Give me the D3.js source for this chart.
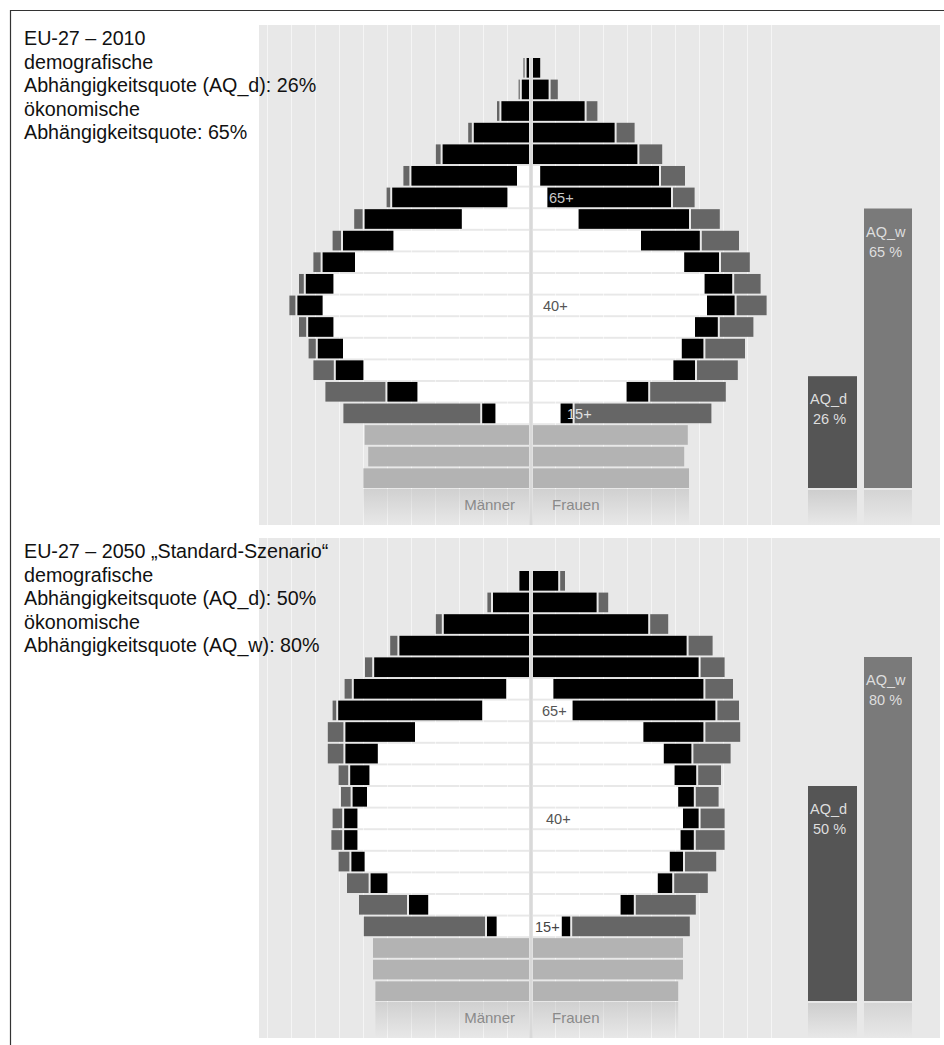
<!DOCTYPE html>
<html lang="de">
  <head>
    <meta charset="UTF-8" />
    <title>EU-27 Bevölkerungspyramiden 2010 / 2050</title>
    <script src="https://d3js.org/d3.v7.min.js"></script>
    <style>
      body {
        margin: 0;
        background: #fff;
        font-family: "Liberation Sans", Arial, Helvetica, sans-serif;
      }
      svg {
        display: block;
      }
      .info {
        font-size: 19.7px;
        fill: #111;
      }
      .age {
        font-size: 14.5px;
      }
      .sex {
        font-size: 15px;
        fill: #8a8a8a;
      }
      .aq {
        font-size: 14.5px;
        fill: #dedede;
      }
    </style>
  </head>
  <body>
    <svg id="chart" width="944" height="1045"></svg>
    <script>
      // age groups, bottom to top (index 0 = 0-4 ... 19 = 95+), values in Mio.
      const ages = ["0-4", "5-9", "10-14", "15-19", "20-24", "25-29", "30-34", "35-39", "40-44", "45-49",
                    "50-54", "55-59", "60-64", "65-69", "70-74", "75-79", "80-84", "85-89", "90-94", "95+"];

      // 2010
      const men2010Kids   = [13.8, 13.4, 13.7, 0, 0, 0, 0, 0, 0, 0, 0, 0, 0, 0, 0, 0, 0, 0, 0, 0];
      const men2010Work   = [0, 0, 0, 2.8, 9.3, 13.8, 15.5, 16.3, 17.2, 16.3, 14.5, 11.3, 5.6, 1.8, 1.0, 0, 0, 0, 0, 0];
      const men2010Dep    = [0, 0, 0, 1.1, 2.5, 2.3, 2.1, 2.1, 2.1, 2.3, 2.7, 4.2, 8.1, 9.6, 8.8, 7.2, 4.6, 2.3, 0.6, 0.2];
      const men2010Out    = [0, 0, 0, 11.4, 5.0, 1.7, 0.6, 0.6, 0.5, 0.4, 0.6, 0.7, 0.7, 0.3, 0.5, 0.4, 0.3, 0.2, 0.1, 0.1];
      const women2010Kids = [13.0, 12.6, 12.9, 0, 0, 0, 0, 0, 0, 0, 0, 0, 0, 0, 0, 0, 0, 0, 0, 0];
      const women2010Work = [0, 0, 0, 2.3, 7.8, 11.7, 12.4, 13.5, 14.5, 14.3, 12.6, 9.0, 3.8, 1.2, 0.6, 0, 0, 0, 0, 0];
      const women2010Dep  = [0, 0, 0, 1.0, 1.8, 1.8, 1.8, 1.9, 2.3, 2.3, 2.9, 4.9, 9.2, 10.3, 9.9, 8.7, 6.8, 4.3, 1.3, 0.6];
      const women2010Out  = [0, 0, 0, 11.4, 6.3, 3.4, 3.3, 2.8, 2.5, 2.2, 2.4, 3.1, 2.4, 1.8, 2.0, 1.9, 1.5, 0.9, 0.6, 0];

      // 2050 "Standard-Szenario"
      const men2050Kids   = [12.8, 13.0, 13.0, 0, 0, 0, 0, 0, 0, 0, 0, 0, 0, 0, 0, 0, 0, 0, 0, 0];
      const men2050Work   = [0, 0, 0, 2.7, 8.4, 11.8, 13.7, 14.3, 14.3, 13.5, 13.3, 12.6, 9.5, 3.9, 1.9, 0, 0, 0, 0, 0];
      const men2050Dep    = [0, 0, 0, 0.8, 1.6, 1.4, 1.1, 1.1, 1.1, 1.2, 1.6, 2.7, 5.8, 12.0, 12.7, 12.9, 10.8, 7.1, 3.0, 0.8];
      const men2050Out    = [0, 0, 0, 10.1, 4.0, 1.8, 0.9, 0.9, 0.8, 0.8, 0.8, 1.3, 1.3, 0.3, 0.6, 0.6, 0.6, 0.5, 0.3, 0];
      const women2050Kids = [12.1, 12.5, 12.5, 0, 0, 0, 0, 0, 0, 0, 0, 0, 0, 0, 0, 0, 0, 0, 0, 0];
      const women2050Work = [0, 0, 0, 2.4, 7.3, 10.4, 11.4, 12.3, 12.5, 12.1, 11.8, 10.9, 9.2, 3.3, 1.7, 0, 0, 0, 0, 0];
      const women2050Dep  = [0, 0, 0, 0.7, 1.1, 1.2, 1.1, 1.1, 1.3, 1.3, 1.8, 2.3, 5.0, 11.9, 12.5, 13.8, 12.8, 9.6, 5.3, 2.1];
      const women2050Out  = [0, 0, 0, 9.8, 5.0, 2.8, 2.6, 2.4, 2.0, 1.9, 1.9, 3.1, 2.9, 1.8, 2.3, 2.0, 2.0, 1.5, 0.8, 0.4];

      // dependency ratios in %
      const aqD = [26, 50];
      const aqW = [65, 80];

      const infoLines = [
        ["EU-27 – 2010", "demografische", "Abhängigkeitsquote (AQ_d): 26%", "ökonomische", "Abhängigkeitsquote: 65%"],
        ["EU-27 – 2050 „Standard-Szenario“", "demografische", "Abhängigkeitsquote (AQ_d): 50%", "ökonomische", "Abhängigkeitsquote (AQ_w): 80%"]
      ];
      const ageLabels = [
        { row: 13, text: "65+" },
        { row: 8, text: "40+" },
        { row: 3, text: "15+" }
      ];

      // layout (not data)
      const panels = [
        { top: 25, men: [men2010Kids, men2010Work, men2010Dep, men2010Out],
          women: [women2010Kids, women2010Work, women2010Dep, women2010Out],
          labelDx: [18, 12, 36], labelFill: ["#c8c8c8", "#555", "#e0e0e0"] },
        { top: 538, men: [men2050Kids, men2050Work, men2050Dep, men2050Out],
          women: [women2050Kids, women2050Work, women2050Dep, women2050Out],
          labelDx: [11, 15, 4], labelFill: ["#555", "#555", "#444"] }
      ];
      const segColors = ["#b3b3b3", "#ffffff", "#000000", "#666666"];

      const svg = d3.select("#chart");
      const cx = 531;
      const perM = 12;
      const xR = d3.scaleLinear().domain([0, 22]).range([cx + 2, cx + 2 + 22 * perM]);
      const xL = d3.scaleLinear().domain([0, 22]).range([cx - 2, cx - 2 - 22 * perM]);
      const gridX = d3.scaleLinear().domain([-22, 20]).range([cx - 22 * perM, cx + 20 * perM]);
      const y = d3.scaleBand().domain(d3.range(19, -1, -1)).range([33, 463]).paddingInner(0.09);
      const yAQ = d3.scaleLinear().domain([0, 100]).range([463, 33]);

      const defs = svg.append("defs");
      function fade(id, color, op) {
        let lg = defs.append("linearGradient").attr("id", id)
          .attr("x1", 0).attr("y1", 0).attr("x2", 0).attr("y2", 1);
        lg.append("stop").attr("offset", 0).attr("stop-color", color).attr("stop-opacity", op);
        lg.append("stop").attr("offset", 1).attr("stop-color", color).attr("stop-opacity", 0);
      }
      fade("fadeKids", "#b3b3b3", 0.45);
      fade("fadeD", "#555555", 0.18);
      fade("fadeW", "#7a7a7a", 0.18);

      // frame
      svg.append("path").attr("d", "M10.5,1045V10.5H944")
        .attr("fill", "none").attr("stroke", "#333").attr("stroke-width", 1.2);

      function segments(series, i) {
        let out = [], acc = 0;
        series.forEach(function (s, k) {
          let v = s[i];
          if (v > 0) out.push({ k: k, x0: acc, x1: acc + v });
          acc += v;
        });
        return out;
      }

      panels.forEach(function (p, pi) {
        let g = svg.append("g").attr("transform", `translate(0,${p.top})`);

        g.append("rect").attr("x", 259).attr("y", 0).attr("width", 681).attr("height", 500)
          .attr("fill", "#e8e8e8");

        g.selectAll(".grid").data(d3.range(-22, 21, 2).filter(v => v !== 0)).enter()
          .append("line")
          .attr("x1", d => Math.round(gridX(d)) + 0.5).attr("x2", d => Math.round(gridX(d)) + 0.5)
          .attr("y1", 0).attr("y2", 500)
          .attr("stroke", "#f5f5f5").attr("stroke-width", 1);

        // bars
        [["men", xL, -1], ["women", xR, 1]].forEach(function ([key, sx, dir]) {
          let series = p[key];
          let side = g.append("g");
          d3.range(20).forEach(function (i) {
            side.selectAll(null).data(segments(series, i)).enter()
              .append("rect")
              .attr("x", function (d) {
                let gap = d.k === 3 ? 2 * dir : 0;
                return Math.min(sx(d.x0), sx(d.x1)) + gap;
              })
              .attr("width", d => Math.abs(sx(d.x1) - sx(d.x0)))
              .attr("y", y(i))
              .attr("height", y.bandwidth())
              .attr("fill", d => segColors[d.k]);
          });
          // reflection of bottom row
          let w0 = series[0][0];
          side.append("rect")
            .attr("x", Math.min(sx(0), sx(w0)))
            .attr("width", Math.abs(sx(w0) - sx(0)))
            .attr("y", y(0) + y.bandwidth() + 1)
            .attr("height", 500 - (y(0) + y.bandwidth() + 1))
            .attr("fill", "url(#fadeKids)");
        });

        // centre line
        g.append("rect").attr("x", cx - 1.5).attr("width", 3)
          .attr("y", y(19)).attr("height", 500 - y(19))
          .attr("fill", "#d9d9d9");

        // age labels
        g.selectAll(".age").data(ageLabels).enter()
          .append("text").attr("class", "age")
          .attr("x", (d, k) => cx + p.labelDx[k])
          .attr("y", d => y(d.row) + y.bandwidth() / 2)
          .attr("dy", "0.36em")
          .attr("fill", (d, k) => p.labelFill[k])
          .text(d => d.text);

        g.append("text").attr("class", "sex").attr("x", cx - 16).attr("y", 485)
          .attr("text-anchor", "end").text("Männer");
        g.append("text").attr("class", "sex").attr("x", cx + 21).attr("y", 485)
          .text("Frauen");

        // dependency ratio bars
        let aq = [
          { name: "AQ_d", v: aqD[pi], x: 808, w: 49, c: "#555555", f: "url(#fadeD)" },
          { name: "AQ_w", v: aqW[pi], x: 864, w: 48, c: "#7a7a7a", f: "url(#fadeW)" }
        ];
        let ab = g.selectAll(".aqbar").data(aq).enter().append("g");
        ab.append("rect").attr("x", d => d.x).attr("width", d => d.w)
          .attr("y", d => yAQ(d.v)).attr("height", d => yAQ(0) - yAQ(d.v))
          .attr("fill", d => d.c);
        ab.append("rect").attr("x", d => d.x).attr("width", d => d.w)
          .attr("y", yAQ(0) + 2).attr("height", 500 - yAQ(0) - 2)
          .attr("fill", d => d.f);
        ab.append("text").attr("class", "aq").attr("x", d => d.x + 2)
          .attr("y", d => yAQ(d.v) + 28).text(d => d.name);
        ab.append("text").attr("class", "aq").attr("x", d => d.x + 5)
          .attr("y", d => yAQ(d.v) + 48).text(d => d.v + " %");

        // info text
        g.selectAll(".info").data(infoLines[pi]).enter()
          .append("text").attr("class", "info")
          .attr("x", 24)
          .attr("y", (d, k) => 20 + k * 23.5)
          .text(d => d);
      });
    </script>
  </body>
</html>
